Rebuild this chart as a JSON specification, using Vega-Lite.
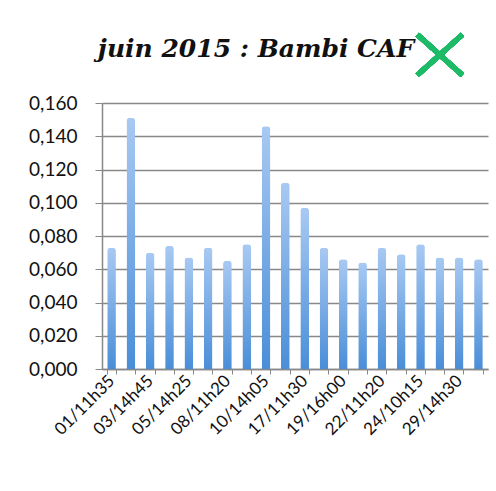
{
  "$schema": "https://vega.github.io/schema/vega-lite/v6.json",
  "width": 386,
  "height": 266,
  "padding": {"left": 28, "top": 24, "right": 5, "bottom": 5},
  "background": "white",
  "title": {
    "text": "juin 2015 : Bambi CAF",
    "font": "DejaVu Serif",
    "fontSize": 25,
    "fontWeight": "bold",
    "fontStyle": "italic",
    "color": "#111111",
    "anchor": "middle",
    "offset": -37,
    "dx": -39
  },
  "data": {
    "values": [
      {"heure": "01/11h35", "valeur": 0.073},
      {"heure": "02/14h20", "valeur": 0.151},
      {"heure": "03/14h45", "valeur": 0.070},
      {"heure": "04/11h25", "valeur": 0.074},
      {"heure": "05/14h25", "valeur": 0.067},
      {"heure": "06/14h10", "valeur": 0.073},
      {"heure": "08/11h20", "valeur": 0.065},
      {"heure": "09/11h30", "valeur": 0.075},
      {"heure": "10/14h05", "valeur": 0.146},
      {"heure": "15/14h00", "valeur": 0.112},
      {"heure": "17/11h30", "valeur": 0.097},
      {"heure": "18/14h15", "valeur": 0.073},
      {"heure": "19/16h00", "valeur": 0.066},
      {"heure": "20/11h15", "valeur": 0.064},
      {"heure": "22/11h20", "valeur": 0.073},
      {"heure": "23/14h05", "valeur": 0.069},
      {"heure": "24/10h15", "valeur": 0.075},
      {"heure": "26/14h20", "valeur": 0.067},
      {"heure": "29/14h30", "valeur": 0.067},
      {"heure": "30/11h30", "valeur": 0.066}
    ]
  },
  "layer": [
    {
      "mark": {
        "type": "bar",
        "cornerRadiusTopLeft": 3,
        "cornerRadiusTopRight": 3,
        "color": {
          "gradient": "linear",
          "x1": 0, "y1": 0, "x2": 0, "y2": 1,
          "stops": [
            {"offset": 0, "color": "#a8c9f2"},
            {"offset": 1, "color": "#4a8ed8"}
          ]
        }
      },
      "encoding": {
        "x": {
          "field": "heure",
          "type": "nominal",
          "sort": null,
          "title": null,
          "scale": {"paddingInner": 0.55, "paddingOuter": 0.27}
        },
        "y": {
          "field": "valeur",
          "type": "quantitative",
          "title": null,
          "scale": {"domain": [0, 0.16], "nice": false},
          "axis": {
            "values": [0, 0.02, 0.04, 0.06, 0.08, 0.1, 0.12, 0.14, 0.16]
          }
        }
      }
    },
    {
      "mark": {
        "type": "point",
        "shape": "M-1,-0.9L1,0.9M1,-0.9L-1,0.9",
        "filled": false,
        "size": 2025,
        "stroke": "#1dbb67",
        "strokeWidth": 5,
        "opacity": 1
      },
      "encoding": {
        "x": {"datum": "26/14h20", "type": "nominal", "title": null},
        "y": {"datum": 0.189, "type": "quantitative", "title": null,
          "axis": {
            "values": [0, 0.02, 0.04, 0.06, 0.08, 0.1, 0.12, 0.14, 0.16]
          }}
      }
    }
  ],
  "config": {
    "view": {"stroke": null},
    "axisX": {
      "grid": false,
      "labelAngle": -45,
      "labelAlign": "right",
      "labelBaseline": "middle",
      "labelFont": "Lato",
      "labelFontSize": 17,
      "labelColor": "#111111",
      "labelPadding": 4,
      "labelOverlap": false,
      "labelExpr": "test(/^(01|03|05|08|10|17|19|22|24|29)\\//, datum.value) ? datum.value : ''",
      "tickBand": "extent",
      "tickSize": 5,
      "tickColor": "#888888",
      "domainColor": "#888888",
      "domainWidth": 1.5
    },
    "axisY": {
      "labelOverlap": false,
      "labelExpr": "replace(format(datum.value, '.3f'), '.', ',')",
      "labelFont": "Lato",
      "labelFontSize": 19,
      "labelColor": "#111111",
      "labelPadding": 18,
      "tickSize": 7,
      "tickColor": "#888888",
      "domainColor": "#888888",
      "domainWidth": 1.5,
      "grid": true,
      "gridColor": "#888888",
      "gridWidth": 1.5
    }
  }
}
